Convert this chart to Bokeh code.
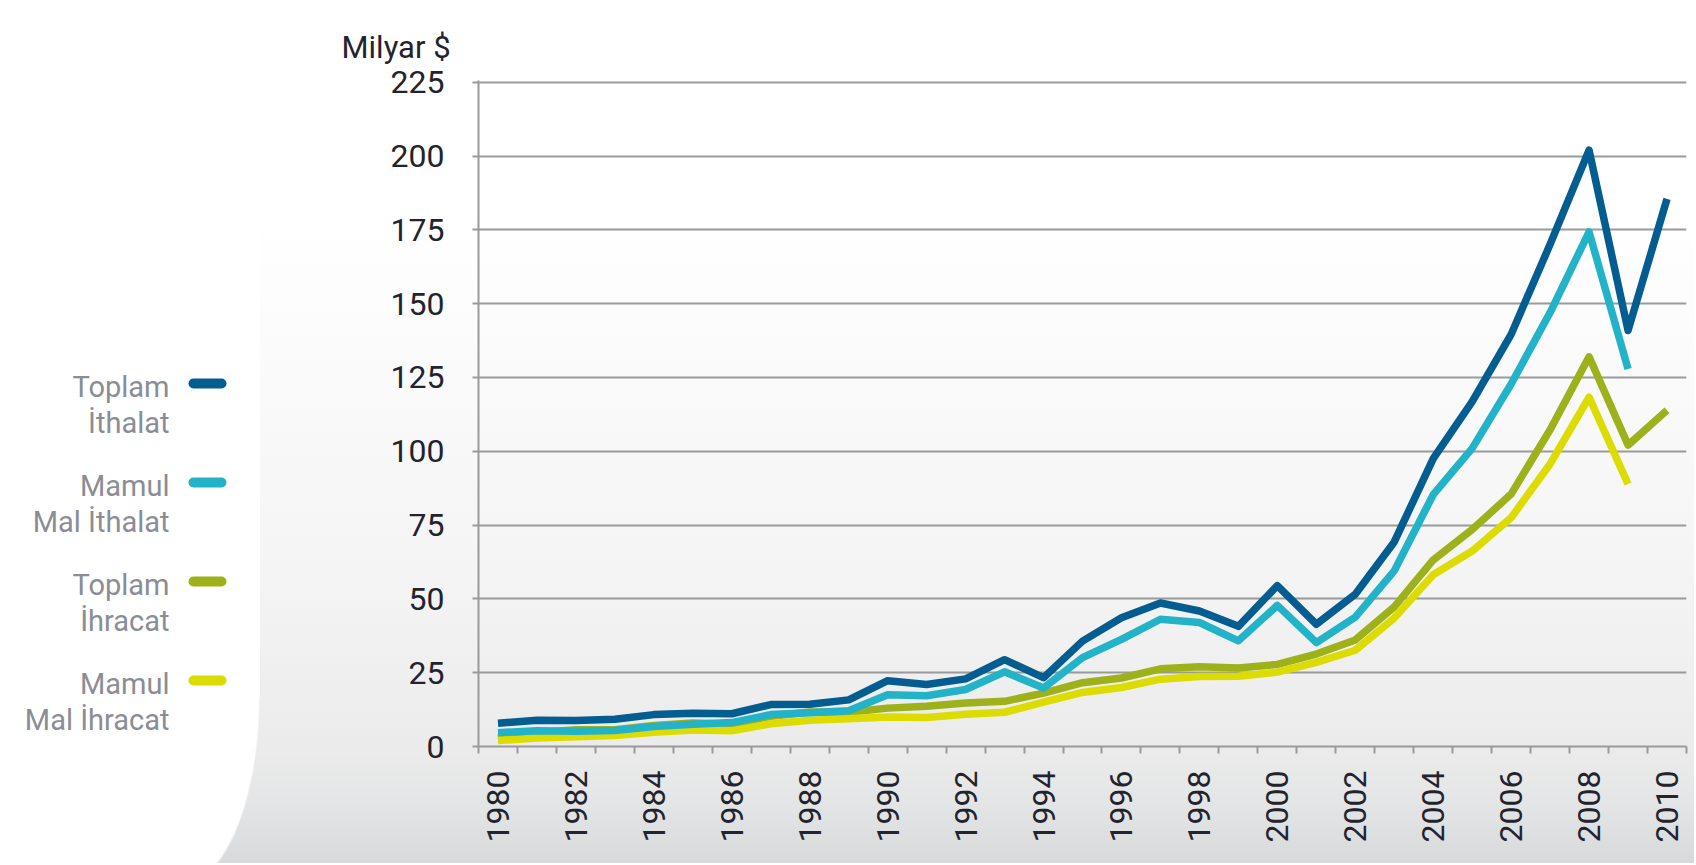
import math
from bokeh.plotting import figure
from bokeh.layouts import row
from bokeh.models import Range1d, FixedTicker, ColumnDataSource, LinearAxis
from bokeh.core.properties import value
from bokeh.embed import file_html
from bokeh.resources import INLINE

nan = float("nan")

years = [1980, 1981, 1982, 1983, 1984, 1985, 1986, 1987, 1988, 1989,
         1990, 1991, 1992, 1993, 1994, 1995, 1996, 1997, 1998, 1999,
         2000, 2001, 2002, 2003, 2004, 2005, 2006, 2007, 2008, 2009, 2010]

toplam_ithalat = [7.9, 8.9, 8.8, 9.2, 10.8, 11.3, 11.1, 14.2, 14.3, 15.8,
                  22.3, 21.0, 22.9, 29.4, 23.3, 35.7, 43.6, 48.6, 45.9, 40.7,
                  54.5, 41.4, 51.6, 69.3, 97.5, 116.8, 139.6, 170.1, 202.0, 140.9, 185.5]

mamul_ithalat = [4.7, 5.3, 5.2, 5.4, 6.8, 7.5, 8.1, 10.8, 11.4, 12.1,
                 17.5, 17.2, 19.3, 25.3, 19.8, 30.1, 36.3, 43.1, 42.0, 35.8,
                 47.8, 35.2, 43.8, 59.5, 85.3, 101.0, 122.8, 147.0, 174.3, 127.9, nan]

toplam_ihracat = [2.9, 4.7, 5.7, 5.7, 7.1, 8.0, 7.5, 10.2, 11.7, 11.6,
                  13.0, 13.6, 14.7, 15.3, 18.1, 21.6, 23.2, 26.3, 27.0, 26.6,
                  27.8, 31.3, 36.1, 47.3, 63.2, 73.5, 85.5, 107.3, 132.0, 102.1, 113.9]

mamul_ihracat = [2.0, 2.9, 3.3, 3.7, 4.8, 5.6, 5.3, 7.7, 8.9, 9.4,
                 10.0, 9.8, 10.9, 11.6, 15.0, 18.3, 20.0, 22.8, 23.7, 23.8,
                 25.2, 28.5, 32.6, 43.5, 58.2, 66.2, 77.5, 95.7, 118.3, 88.9, nan]

series_names = ["Toplam\nİthalat", "Mamul\nMal İthalat", "Toplam\nİhracat", "Mamul\nMal İhracat"]
series_colors = ["#035d90", "#22b3c8", "#9cb11a", "#dcdc02"]
series_values = [toplam_ithalat, mamul_ithalat, toplam_ihracat, mamul_ihracat]
draw_order = [2, 3, 1, 0]

y_ticks = [0, 25, 50, 75, 100, 125, 150, 175, 200, 225]
x_label_years = [1980, 1982, 1984, 1986, 1988, 1990, 1992, 1994, 1996, 1998,
                 2000, 2002, 2004, 2006, 2008, 2010]
unit_label = "Milyar $"

FONT = "Roboto"
W = 1694
H = 863
LEG_W = 330
MAIN_W = W - LEG_W
TOP = 80      # frame top (px from page top)
BOTTOM = 746  # frame bottom

grad = ("linear-gradient(to bottom, #ffffff 0%, #ffffff 25%, #fbfbfb 40%, "
        "#f4f4f4 67%, #ebebeb 87%, #e4e5e6 93%, #d8d9db 100%)")

# ---------------- legend panel ----------------
leg = figure(width=LEG_W, height=H, x_range=Range1d(0, LEG_W), y_range=Range1d(BOTTOM, TOP),
             x_axis_type=None, y_axis_type=None, toolbar_location=None,
             output_backend="svg", min_border=0, min_border_left=0, min_border_right=0,
             min_border_top=TOP, min_border_bottom=H - BOTTOM)
leg.grid.visible = False
leg.outline_line_color = None
leg.background_fill_alpha = 0
leg.border_fill_alpha = 0
leg.styles = {
    "background-image": ("linear-gradient(#ffffff, #ffffff), linear-gradient(#ffffff, #ffffff), "
                         "radial-gradient(ellipse 80px 190px at 180px 697px, #ffffff 98%, "
                         "rgba(255,255,255,0) 100%), " + grad),
    "background-size": "260px 697px, 180px 100%, 100% 100%, 100% 100%",
    "background-repeat": "no-repeat",
}

entry_top = 386
entry_gap = 99
line_gap = 36
l1_x, l1_y, l1_t, l2_x, l2_y, l2_t = [], [], [], [], [], []
sw_y = []
for i, name in enumerate(series_names):
    a, b = name.split("\n")
    base = entry_top + i * entry_gap
    l1_x.append(169); l1_y.append(base); l1_t.append(a)
    l2_x.append(169); l2_y.append(base + line_gap); l2_t.append(b)
    sw_y.append(base - 3)

for xs, ys, ts in [(l1_x, l1_y, l1_t), (l2_x, l2_y, l2_t)]:
    leg.text(x=xs, y=ys, text=ts, text_align="right", text_baseline="alphabetic",
             text_font=value(FONT), text_font_size="29px", text_color="#8a8d96")

leg.segment(x0=[193] * 4, x1=[221] * 4, y0=sw_y, y1=sw_y, line_width=10,
            line_cap="round", color=series_colors)

# ---------------- main chart ----------------
p = figure(width=MAIN_W, height=H, x_range=Range1d(1979.5, 2010.5), y_range=Range1d(0, 225.6),
           toolbar_location=None, output_backend="svg",
           min_border_left=148, min_border_right=8, min_border_top=TOP,
           min_border_bottom=H - BOTTOM)
p.background_fill_alpha = 0
p.border_fill_alpha = 0
p.outline_line_color = None
p.styles = {"background-image": grad, "background-repeat": "no-repeat",
            "background-size": "100% 100%"}

# invisible spacer axis above the frame: lifts the unit title higher
spacer = LinearAxis(ticker=FixedTicker(ticks=[]), axis_line_color=None,
                    major_tick_line_color=None, minor_tick_line_color=None,
                    major_tick_out=17, major_tick_in=0, minor_tick_out=0, minor_tick_in=0,
                    major_label_standoff=0)
p.add_layout(spacer, "above")

# unit label as the plot title, shifted left above the y tick labels
p.title.text = unit_label
p.title.align = "left"
p.title.vertical_align = "top"
p.title.offset = -137
p.title.standoff = 25
p.title.text_font = FONT
p.title.text_font_size = "31px"
p.title.text_font_style = "normal"
p.title.text_color = "#23232d"

# x axis
xax = p.below[0]
xax.ticker = FixedTicker(ticks=x_label_years,
                         minor_ticks=[y - 0.5 for y in years] + [years[-1] + 0.5])
xax.major_tick_out = 0
xax.major_tick_in = 0
xax.minor_tick_out = 7
xax.minor_tick_in = 0
xax.minor_tick_line_color = "#9a9a9a"
xax.minor_tick_line_width = 2
xax.axis_line_color = "#9a9a9a"
xax.axis_line_width = 2
xax.major_label_orientation = math.pi / 2
xax.major_label_standoff = 17
xax.major_label_text_font = FONT
xax.major_label_text_font_size = "32px"
xax.major_label_text_color = "#23232d"
p.xgrid.visible = False

# y axis
yax = p.yaxis[0]
yax.ticker = FixedTicker(ticks=y_ticks)
yax.minor_tick_out = 0
yax.minor_tick_in = 0
yax.major_tick_out = 6
yax.major_tick_in = 0
yax.major_tick_line_color = "#9a9a9a"
yax.major_tick_line_width = 2
yax.axis_line_color = "#9a9a9a"
yax.axis_line_width = 2
yax.major_label_standoff = 28
yax.major_label_text_font = FONT
yax.major_label_text_font_size = "32px"
yax.major_label_text_color = "#23232d"
p.ygrid.ticker = FixedTicker(ticks=y_ticks)
p.ygrid.grid_line_color = "#9a9a9a"
p.ygrid.grid_line_width = 2

for i in draw_order:
    src = ColumnDataSource(dict(x=years, y=series_values[i]))
    p.line("x", "y", source=src, line_color=series_colors[i], line_width=7.5,
           line_join="round", line_cap="butt")

layout = row(leg, p, spacing=0)

open("out.html", "w").write(file_html(layout, INLINE))
